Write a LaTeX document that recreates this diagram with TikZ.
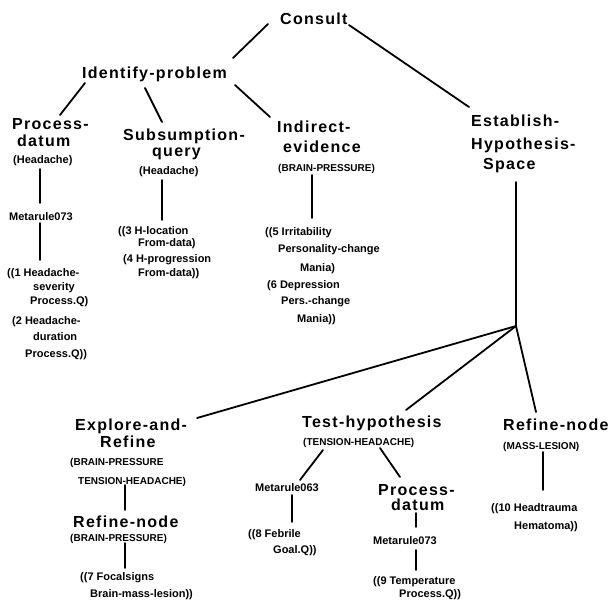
\documentclass[tikz,border=0pt]{standalone}
\usepackage{fontspec}
\setmainfont{Liberation Sans}
\newfontfamily\spacedfont{Liberation Sans}[LetterSpace=8]
\usetikzlibrary{calc}
\begin{document}
\begin{tikzpicture}[x=1pt,y=-1pt,
  big/.style={font=\spacedfont\bfseries\fontsize{16}{18}\selectfont, anchor=base west, inner sep=0pt},
  sm/.style={font=\bfseries\fontsize{11}{13}\selectfont, anchor=base west, inner sep=0pt},
  capl/.style={font=\bfseries\fontsize{10}{12}\selectfont, anchor=base west, inner sep=0pt},
  link/.style={line width=1.8pt, line cap=round}]
\useasboundingbox[fill=white] (0,0) rectangle (612,600);

% top level
\node[big] (consult) at (280,24) {Consult};
\node[big] (idp) at (82,78) {Identify-problem};

% Process-datum 1
\node[big] (pdA) at (12,129) {Process-};
\node[big] (pdB) at (17,146) {datum};
\node[sm] (pdC) at (13,163) {(Headache)};
\node[sm] (mrA) at (9,220) {Metarule073};
\node[sm] (lA1) at (7,276) {((1 Headache-};
\node[sm] (lA2) at (33,290) {severity};
\node[sm] (lA3) at (30,304) {Process.Q)};
\node[sm] (lA4) at (12,324) {(2 Headache-};
\node[sm] (lA5) at (33,340) {duration};
\node[sm] (lA6) at (25,357) {Process.Q))};

% Subsumption-query
\node[big] (sqA) at (123,140) {Subsumption-};
\node[big] (sqB) at (152,156) {query};
\node[sm] (sqC) at (139,174) {(Headache)};
\node[sm] (lB1) at (118,234) {((3 H-location};
\node[sm] (lB2) at (138,246) {From-data)};
\node[sm] (lB3) at (123,262) {(4 H-progression};
\node[sm] (lB4) at (138,276) {From-data))};

% Indirect-evidence
\node[big] (ieA) at (277,132) {Indirect-};
\node[big] (ieB) at (283,152) {evidence};
\node[capl] (ieC) at (278,171) {(BRAIN-PRESSURE)};
\node[sm] (lC1) at (265,235) {((5 Irritability};
\node[sm] (lC2) at (278,252) {Personality-change};
\node[sm] (lC3) at (300,271) {Mania)};
\node[sm] (lC4) at (267,288) {(6 Depression};
\node[sm] (lC5) at (281,304) {Pers.-change};
\node[sm] (lC6) at (297,322) {Mania))};

% Establish-Hypothesis-Space
\node[big] (ehA) at (471,126) {Establish-};
\node[big] (ehB) at (471,149) {Hypothesis-};
\node[big] (ehC) at (483,169) {Space};
\coordinate (fan) at (516,326);

% Explore-and-Refine
\node[big] (erA) at (75,430) {Explore-and-};
\node[big] (erB) at (100,447) {Refine};
\node[capl] (erC) at (70,465) {(BRAIN-PRESSURE};
\node[capl] (erD) at (78,484) {TENSION-HEADACHE)};
\node[big] (rnA) at (73,527) {Refine-node};
\node[capl] (rnB) at (70,541) {(BRAIN-PRESSURE)};
\node[sm] (lD1) at (80,580) {((7 Focalsigns};
\node[sm] (lD2) at (90,597) {Brain-mass-lesion))};

% Test-hypothesis
\node[big] (thA) at (302,427) {Test-hypothesis};
\node[capl] (thB) at (303,445) {(TENSION-HEADACHE)};
\node[sm] (mrB) at (255,491) {Metarule063};
\node[sm] (lE1) at (248,537) {((8 Febrile};
\node[sm] (lE2) at (273,553) {Goal.Q))};
\node[big] (pd2A) at (378,495) {Process-};
\node[big] (pd2B) at (391,510) {datum};
\node[sm] (mrC) at (373,544) {Metarule073};
\node[sm] (lF1) at (373,584) {((9 Temperature};
\node[sm] (lF2) at (399,597) {Process.Q))};

% Refine-node right
\node[big] (rrA) at (503,430) {Refine-node};
\node[capl] (rrB) at (503,449) {(MASS-LESION)};
\node[sm] (lG1) at (491,511) {((10 Headtrauma};
\node[sm] (lG2) at (514,529) {Hematoma))};

% connectors
\draw[link] ($(consult.base west)+(-12,0)$) -- ($(idp.base west)+(151,-20)$);
\draw[link] ($(consult.base west)+(69,1)$) -- ($(ehA.base west)+(-2,-19)$);
\draw[link] ($(idp.base west)+(3,5)$) -- ($(pdA.base west)+(48,-14)$);
\draw[link] ($(idp.base west)+(63,10)$) -- ($(sqA.base west)+(39,-18)$);
\draw[link] ($(idp.base west)+(153,7)$) -- ($(ieA.base west)+(-7,-15)$);
\draw[link] ($(pdC.base west)+(27,6)$) -- ($(mrA.base west)+(31,-17)$);
\draw[link] ($(mrA.base west)+(31,3)$) -- ($(lA1.base west)+(33,-16)$);
\draw[link] ($(sqC.base west)+(23,6)$) -- ($(lB1.base west)+(44,-14)$);
\draw[link] ($(ieC.base west)+(34,4)$) -- ($(lC1.base west)+(47,-17)$);
\draw[link] ($(ehC.base west)+(33,13)$) -- (fan);
\draw[link] (fan) -- ($(erA.base west)+(122,-12)$);
\draw[link] (fan) -- ($(thA.base west)+(104,-17)$);
\draw[link] (fan) -- ($(rrA.base west)+(33,-18)$);
\draw[link] ($(erD.base west)+(47,1)$) -- ($(rnA.base west)+(52,-17)$);
\draw[link] ($(rnB.base west)+(55,2)$) -- ($(lD1.base west)+(45,-12)$);
\draw[link] ($(thB.base west)+(20,5)$) -- ($(mrB.base west)+(45,-11)$);
\draw[link] ($(thB.base west)+(77,3)$) -- ($(pd2A.base west)+(22,-18)$);
\draw[link] ($(mrB.base west)+(37,4)$) -- ($(lE1.base west)+(44,-15)$);
\draw[link] ($(pd2B.base west)+(25,3)$) -- ($(mrC.base west)+(43,-17)$);
\draw[link] ($(mrC.base west)+(43,6)$) -- ($(lF1.base west)+(43,-14)$);
\draw[link] ($(rrB.base west)+(40,3)$) -- ($(lG1.base west)+(52,-21)$);
\end{tikzpicture}
\end{document}
